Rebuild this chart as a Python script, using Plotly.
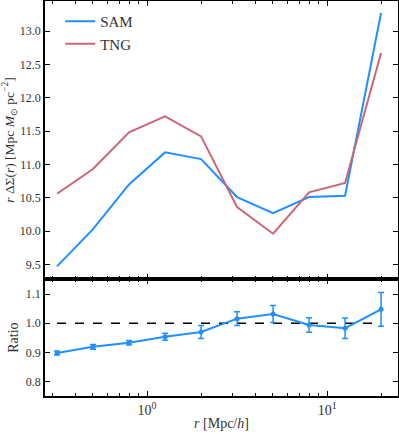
import numpy as np
import plotly.graph_objects as go
from plotly.subplots import make_subplots

# radios (Mpc/h)
r = [0.316, 0.501, 0.794, 1.259, 1.995, 3.162, 5.012, 7.943, 12.59, 19.95]

# r * DeltaSigma
sam = [9.47, 10.03, 10.70, 11.18, 11.08, 10.51, 10.27, 10.51, 10.53, 13.27]
tng = [10.56, 10.93, 11.48, 11.72, 11.42, 10.36, 9.96, 10.58, 10.72, 12.67]

# cociente y errores
ratio = [0.898, 0.919, 0.933, 0.954, 0.970, 1.016, 1.032, 0.994, 0.983, 1.048]
ratio_err = [0.007, 0.008, 0.008, 0.012, 0.022, 0.024, 0.029, 0.025, 0.035, 0.058]

BLUE = "#1E90FF"
RED = "#CC6677"
FONT = "Liberation Serif"

fig = make_subplots(rows=2, cols=1, shared_xaxes=True, vertical_spacing=0,
                    row_heights=[0.704, 0.296])

fig.add_trace(go.Scatter(x=r, y=sam, mode="lines", name="SAM",
                         line=dict(color=BLUE, width=2)), row=1, col=1)
fig.add_trace(go.Scatter(x=r, y=tng, mode="lines", name="TNG",
                         line=dict(color=RED, width=2)), row=1, col=1)

fig.add_trace(go.Scatter(x=r, y=[1.0] * len(r), mode="lines", showlegend=False,
                         line=dict(color="black", width=1.6, dash="dash")),
              row=2, col=1)
fig.add_trace(go.Scatter(x=r, y=ratio, mode="lines+markers", showlegend=False,
                         line=dict(color=BLUE, width=2),
                         marker=dict(color=BLUE, size=5),
                         error_y=dict(type="data", array=ratio_err, color=BLUE,
                                      thickness=1.5, width=3)),
              row=2, col=1)

minor_vals = [m * 10.0 ** e for e in (-1, 0, 1) for m in range(2, 10)]

xcommon = dict(type="log", range=[-0.567, 1.394], showline=True, linecolor="black",
               linewidth=1.5, mirror="allticks", ticks="inside", ticklen=5,
               tickwidth=1, tickcolor="black", showgrid=False, zeroline=False,
               tickvals=[1, 10], automargin=False,
               minor=dict(ticks="inside", ticklen=3, tickwidth=1, tickcolor="black",
                          tickvals=minor_vals, showgrid=False))
ycommon = dict(showline=True, linecolor="black", linewidth=1.5, mirror="allticks",
               ticks="inside", ticklen=5, tickwidth=1, tickcolor="black",
               showgrid=False, zeroline=False, tickformat=".1f", automargin=False)

fig.update_xaxes(**xcommon, showticklabels=False, row=1, col=1)
fig.update_xaxes(**xcommon, ticktext=["10<sup>0</sup>", "10<sup>1</sup>"],
                 tickfont=dict(size=14),
                 title=dict(text="<i>r</i> [Mpc/<i>h</i>]", standoff=2,
                            font=dict(size=14, color="#333")),
                 row=2, col=1)
fig.update_yaxes(**ycommon, range=[9.28, 13.45], dtick=0.5, tick0=9.5,
                 title=dict(text="<i>r</i> ΔΣ(<i>r</i>) [Mpc <i>M</i><sub>⊙</sub> pc<sup>−2</sup>]",
                            standoff=4, font=dict(size=13.5, color="#333")),
                 row=1, col=1)
fig.update_yaxes(**ycommon, range=[0.75, 1.152], tickvals=[0.8, 0.9, 1.0, 1.1],
                 title=dict(text="Ratio", standoff=4, font=dict(size=14, color="#333")),
                 row=2, col=1)

fig.update_layout(
    width=399, height=434,
    margin=dict(l=45, r=1, t=1, b=38),
    paper_bgcolor="white", plot_bgcolor="white",
    font=dict(family=FONT, size=12, color="#333"),
    legend=dict(x=0.043, y=0.99, xanchor="left", yanchor="top",
                bgcolor="rgba(0,0,0,0)", font=dict(size=15, color="#333")),
    showlegend=True,
)

# quitar el margen por defecto del body del navegador
fig.write_html("out.html", config={"displayModeBar": False},
               post_script="document.body.style.margin='0';")
